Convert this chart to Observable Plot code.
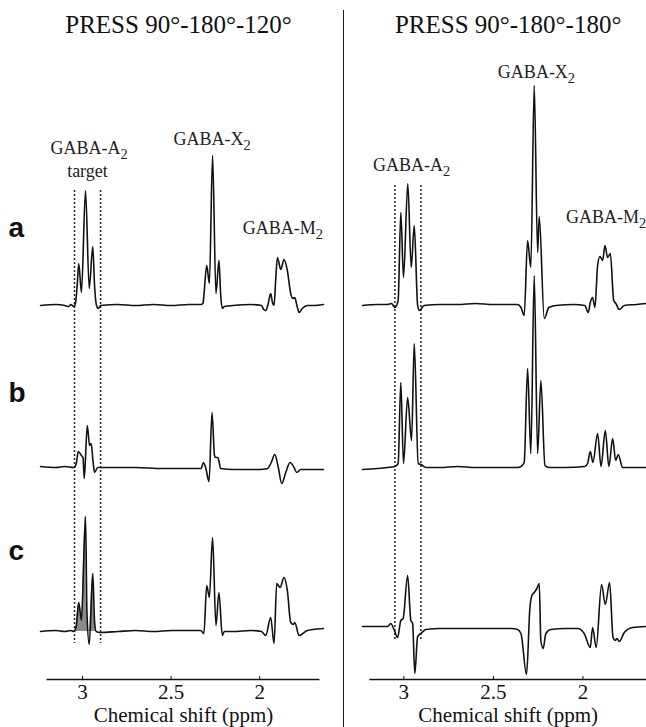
<!DOCTYPE html>
<html>
<head>
<meta charset="utf-8">
<script src="https://cdn.jsdelivr.net/npm/d3@7"></script>
<script src="https://cdn.jsdelivr.net/npm/@observablehq/plot@0.6"></script>
<style>
  body { margin: 0; background: #fff; }
  #wrap { position: relative; display: flex; width: 646px; height: 727px; overflow: hidden; }
  #divider { position: absolute; left: 342.5px; top: 10px; width: 1.5px; height: 717px; background: #1a1a1a; }
  svg { display: block; }
</style>
</head>
<body>
<div id="wrap"><div id="left"></div><div id="right"></div><div id="divider"></div></div>
<script>
// ---------------- DATA (chemical shift in ppm, signal in arbitrary units) ----------------
const panelTitles = ["PRESS 90°-180°-120°", "PRESS 90°-180°-180°"];
const rowNames = ["a", "b", "c"];
const xTicks = [3, 2.5, 2];
const xLabel = "Chemical shift (ppm)";

// Left panel: PRESS 90-180-120
const leftA_ppm = [3.237,3.15,3.10,3.079,3.065,3.050,3.040,3.030,3.021,3.006,2.983,2.962,2.942,2.932,2.921,2.910,2.898,2.80,2.70,2.60,2.50,2.40,2.333,2.320,2.315,2.299,2.284,2.266,2.247,2.230,2.220,2.211,2.200,2.15,2.05,1.990,1.977,1.966,1.952,1.938,1.928,1.919,1.910,1.900,1.881,1.863,1.844,1.825,1.813,1.802,1.790,1.778,1.760,1.731,1.70,1.640];
const leftA_amp = [0,1,0,-1,1,-1,2,20,42,13,115,17,59,20,0,-3,0,1,0,1,0,1,1,2,10,40,22,150,12,45,10,-3,-1,0,1,0,-4,-5,2,12,3,0,25,48,36,46,35,12,7,8,0,-7,-3,0,0,1];

const leftB_ppm = [3.237,3.15,3.10,3.049,3.035,3.024,3.006,2.997,2.990,2.973,2.960,2.951,2.940,2.932,2.914,2.85,2.70,2.55,2.40,2.330,2.318,2.305,2.286,2.269,2.255,2.249,2.236,2.220,2.15,2.00,1.956,1.935,1.915,1.895,1.876,1.853,1.829,1.806,1.791,1.768,1.70,1.640];
const leftB_amp = [1,0,1,0,4,16,12,10,-11,42,22,24,5,-5,0,0,0,-1,-1,-1,5,0,-14,55,12,10,10,-1,-2,-2,-1,5,13,0,-16,-5,5,0,-5,-2,-2,-2];

const leftC_ppm = [3.237,3.15,3.10,3.065,3.049,3.035,3.021,3.006,2.983,2.975,2.962,2.942,2.932,2.923,2.90,2.80,2.70,2.60,2.50,2.40,2.333,2.315,2.299,2.284,2.266,2.247,2.230,2.211,2.200,2.15,2.05,1.990,1.966,1.938,1.919,1.904,1.885,1.863,1.844,1.825,1.810,1.802,1.778,1.731,1.70,1.640];
const leftC_amp = [0,1,0,1,0,6,29,11,115,20,-13,58,10,0,-1,0,1,0,1,1,1,-2,46,34,94,6,39,-4,0,0,1,0,-4,14,-12,48,44,54,41,9,7,9,-4,1,2,3];

// Right panel: PRESS 90-180-180
const rightA_ppm = [3.231,3.15,3.091,3.069,3.050,3.032,3.017,3.002,2.978,2.959,2.942,2.923,2.912,2.887,2.80,2.70,2.60,2.50,2.40,2.365,2.346,2.328,2.309,2.291,2.272,2.253,2.244,2.216,2.190,2.15,2.05,1.990,1.970,1.959,1.946,1.933,1.918,1.905,1.890,1.877,1.862,1.847,1.828,1.816,1.797,1.769,1.70,1.648];
const rightA_amp = [0,1,1,2,-2,5,93,28,122,38,80,0,-5,0,1,1,2,1,1,1,-2,-10,65,38,220,53,89,-13,-2,0,1,0,-7,3,8,-2,40,49,45,60,48,52,5,2,-4,0,1,2];

const rightB_ppm = [3.231,3.15,3.091,3.050,3.032,3.017,3.002,2.979,2.957,2.942,2.920,2.905,2.877,2.80,2.70,2.60,2.50,2.365,2.346,2.328,2.309,2.291,2.272,2.253,2.235,2.212,2.190,2.10,1.990,1.974,1.959,1.944,1.918,1.899,1.875,1.855,1.834,1.817,1.803,1.778,1.70,1.648];
const rightB_amp = [-1,0,1,2,5,86,5,71,28,125,5,4,1,1,2,1,1,1,2,6,100,15,193,15,88,3,1,1,2,5,17,6,35,2,38,2,30,8,14,1,1,1];

const rightC_ppm = [3.231,3.15,3.091,3.073,3.055,3.035,3.017,3.004,2.979,2.961,2.951,2.939,2.923,2.905,2.877,2.80,2.70,2.60,2.50,2.40,2.365,2.346,2.315,2.296,2.285,2.272,2.257,2.244,2.235,2.222,2.207,2.179,2.10,2.030,1.993,1.959,1.946,1.926,1.896,1.875,1.851,1.832,1.820,1.810,1.797,1.769,1.722,1.648];
const rightC_amp = [0,0,0,3,-3,-11,6,8,51,6,3,-47,-10,-7,-3,-2,-2,-2,-2,-2,-3,-7,-48,19,31,34,38,43,-14,-22,-7,-3,-2,-2,-7,-21,-1,-21,42,22,44,-11,-14,-12,-15,-6,-1,0];

// Peak labels
const leftLabels = ["GABA-A₂", "target", "GABA-X₂", "GABA-M₂"];
const rightLabels = ["GABA-A₂", "GABA-X₂", "GABA-M₂"];
// Target band edges (ppm)
const leftBand = [3.045, 2.898];
const rightBand = [3.05, 2.905];

// ---------------- LAYOUT ----------------
const SERIF = "'Liberation Serif', 'Times New Roman', Times, serif";
const SANS = "'Liberation Sans', Arial, Helvetica, sans-serif";
const yDomain = [-374, 305];

const panels = [
  {
    el: "#left", width: 344, marginLeft: 40, marginRight: 21,
    domain: [3.237, 1.64], axisExtent: [3.2, 1.66],
    title: panelTitles[0], titleDx: -5,
    traces: [[leftA_ppm, leftA_amp], [leftB_ppm, leftB_amp], [leftC_ppm, leftC_amp]],
    offsets: [0, -162, -326],
    band: leftBand, bandY: [115, -338],
    fillRow: 2,
    labels: [
      {text: leftLabels[0], x: 3.181, y: 157, anchor: "start"},
      {text: leftLabels[1], x: 2.972, y: 134, anchor: "middle"},
      {text: leftLabels[2], x: 2.486, y: 166, anchor: "start"},
      {text: leftLabels[3], x: 2.096, y: 77, anchor: "start"}
    ],
    rowLetters: true, letterY: [77, 74, 80]
  },
  {
    el: "#right", width: 302, marginLeft: 18, marginRight: 0,
    domain: [3.231, 1.645], axisExtent: [3.19, 1.645],
    title: panelTitles[1], titleDx: 0,
    traces: [[rightA_ppm, rightA_amp], [rightB_ppm, rightB_amp], [rightC_ppm, rightC_amp]],
    offsets: [0, -163, -321],
    band: rightBand, bandY: [120, -335],
    fillRow: null,
    labels: [
      {text: rightLabels[0], x: 3.173, y: 140, anchor: "start"},
      {text: rightLabels[1], x: 2.475, y: 233, anchor: "start"},
      {text: rightLabels[2], x: 2.095, y: 88, anchor: "start"}
    ],
    rowLetters: false
  }
];

function subscripts(svg) {
  d3.select(svg).selectAll("text, tspan").each(function () {
    if (this.children.length === 0 && this.textContent.includes("₂")) {
      const parts = this.textContent.split("₂");
      const sel = d3.select(this);
      sel.text(null);
      parts.forEach((p, i) => {
        if (p) sel.append("tspan").text(p);
        if (i < parts.length - 1) sel.append("tspan").attr("font-size", "0.8em").attr("dy", "0.3em").text("2");
      });
    }
  });
}

for (const cfg of panels) {
  const marks = [];
  const yBottom = yDomain[0];

  // target band (dotted)
  marks.push(Plot.ruleX(cfg.band, {y1: cfg.bandY[0], y2: cfg.bandY[1], stroke: "#222", strokeWidth: 1.5, strokeDasharray: "2,2"}));

  cfg.traces.forEach(([ppm, amp], i) => {
    const data = ppm.map((p, j) => ({ppm: p, amp: amp[j], y: cfg.offsets[i] + amp[j]}));
    if (cfg.fillRow === i) {
      const fillData = data.filter(d => d.ppm <= cfg.band[0] + 1e-9 && d.ppm >= cfg.band[1] - 1e-9);
      marks.push(Plot.areaY(fillData, {x: "ppm", y1: cfg.offsets[i], y2: d => cfg.offsets[i] + Math.max(0, d.amp), fill: "#8a8a8a", curve: "monotone-x"}));
    }
    marks.push(Plot.line(data, {x: "ppm", y: "y", stroke: "#111", strokeWidth: 1.6, strokeLinejoin: "round", curve: "monotone-x"}));
  });

  // axis line, ticks and labels
  marks.push(Plot.ruleY([yBottom], {x1: cfg.axisExtent[0], x2: cfg.axisExtent[1], stroke: "#111", strokeWidth: 1.3}));
  marks.push(Plot.ruleX(xTicks, {y1: yBottom, y2: yBottom + 3, stroke: "#111", strokeWidth: 1}));
  marks.push(Plot.text(xTicks, {x: d => d, text: d => String(d), frameAnchor: "bottom", dy: 13, lineAnchor: "middle", fontSize: 21, fill: "#111"}));
  marks.push(Plot.text([xLabel], {x: (cfg.axisExtent[0] + cfg.axisExtent[1]) / 2, frameAnchor: "bottom", dy: 36, lineAnchor: "middle", fontSize: 21, fill: "#111"}));

  // title
  marks.push(Plot.text([cfg.title], {x: (cfg.axisExtent[0] + cfg.axisExtent[1]) / 2, frameAnchor: "top", dy: 24, dx: cfg.titleDx, lineAnchor: "middle", fontSize: 25, fill: "#111"}));

  // peak labels
  for (const lab of cfg.labels) {
    marks.push(Plot.text([lab.text], {x: lab.x, y: lab.y, textAnchor: lab.anchor, lineAnchor: "middle", fontSize: 18, fill: "#222"}));
  }

  // row letters
  if (cfg.rowLetters) {
    rowNames.forEach((r, i) => {
      marks.push(Plot.text([r], {frameAnchor: "left", y: cfg.offsets[i] + cfg.letterY[i], dx: -32, textAnchor: "start", lineAnchor: "middle", fontSize: 28, fontWeight: "bold", fill: "#111"}));
    });
  }

  const svg = Plot.plot({
    width: cfg.width, height: 727,
    marginLeft: cfg.marginLeft, marginRight: cfg.marginRight, marginTop: 0, marginBottom: 48,
    x: {domain: cfg.domain, axis: null},
    y: {domain: yDomain, axis: null},
    style: {background: "#fff", overflow: "visible"},
    marks
  });
  // fonts: serif everywhere except bold row letters
  d3.select(svg).selectAll("text").each(function () {
    const t = d3.select(this);
    const bold = this.getAttribute("font-weight") === "bold" || (this.parentNode && this.parentNode.getAttribute && this.parentNode.getAttribute("font-weight") === "bold");
    t.style("font-family", bold ? SANS : SERIF);
  });
  subscripts(svg);
  document.querySelector(cfg.el).append(svg);
}
</script>
</body>
</html>
